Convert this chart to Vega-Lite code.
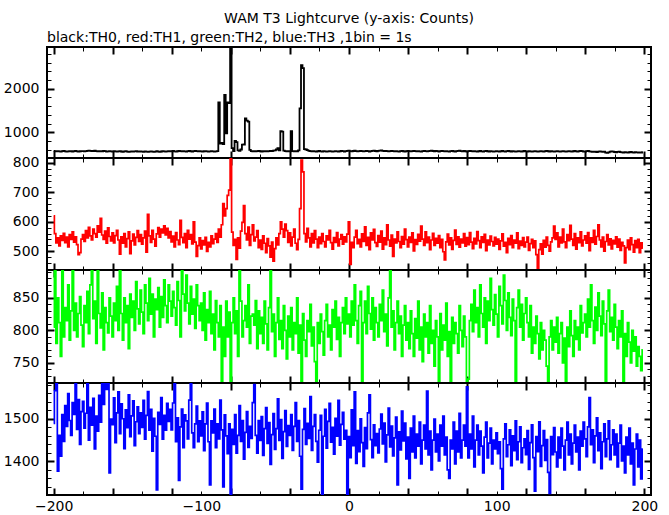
{
"$schema":"https://vega.github.io/schema/vega-lite/v6.json",
"padding":{"top":12,"left":2,"right":5,"bottom":0},
"background":"white",
"title":{"text":"WAM T3 Lightcurve (y-axis: Counts)","anchor":"middle","frame":"group","offset":4},
"datasets":{"lc":[
{"t":-200,"a":578,"b":620,"c":805,"d":1489},{"t":-199,"a":572,"b":560,"c":895,"d":1566},{"t":-198,"a":566,"b":528,"c":780,"d":1615},{"t":-197,"a":575,"b":545,"c":850,"d":1377},{"t":-196,"a":569,"b":518,"c":812,"d":1461},{"t":-195,"a":563,"b":552,"c":760,"d":1412},{"t":-194,"a":571,"b":537,"c":898,"d":1510},{"t":-193,"a":577,"b":561,"c":790,"d":1447},{"t":-192,"a":568,"b":529,"c":835,"d":1531},{"t":-191,"a":560,"b":548,"c":815,"d":1482},
{"t":-190,"a":566,"b":515,"c":870,"d":1559},{"t":-189,"a":574,"b":556,"c":785,"d":1496},{"t":-188,"a":570,"b":540,"c":830,"d":1461},{"t":-187,"a":565,"b":566,"c":900,"d":1538},{"t":-186,"a":572,"b":531,"c":800,"d":1510},{"t":-185,"a":579,"b":549,"c":842,"d":1608},{"t":-184,"a":568,"b":522,"c":790,"d":1475},{"t":-183,"a":562,"b":488,"c":826,"d":1545},{"t":-182,"a":570,"b":495,"c":852,"d":1440},{"t":-181,"a":575,"b":541,"c":808,"d":1517},
{"t":-180,"a":571,"b":556,"c":775,"d":1541},{"t":-179,"a":566,"b":533,"c":838,"d":1478},{"t":-178,"a":574,"b":570,"c":812,"d":1513},{"t":-177,"a":580,"b":545,"c":860,"d":1604},{"t":-176,"a":586,"b":581,"c":795,"d":1450},{"t":-175,"a":578,"b":552,"c":870,"d":1527},{"t":-174,"a":571,"b":538,"c":895,"d":1485},{"t":-173,"a":576,"b":575,"c":818,"d":1548},{"t":-172,"a":583,"b":560,"c":845,"d":1429},{"t":-171,"a":575,"b":548,"c":780,"d":1506},
{"t":-170,"a":568,"b":586,"c":900,"d":1471},{"t":-169,"a":573,"b":565,"c":826,"d":1555},{"t":-168,"a":566,"b":612,"c":804,"d":1492},{"t":-167,"a":570,"b":555,"c":858,"d":1597},{"t":-166,"a":577,"b":540,"c":770,"d":1534},{"t":-165,"a":572,"b":568,"c":835,"d":1604},{"t":-164,"a":565,"b":527,"c":812,"d":1569},{"t":-163,"a":569,"b":579,"c":796,"d":1597},{"t":-162,"a":574,"b":550,"c":850,"d":1373},{"t":-161,"a":568,"b":535,"c":822,"d":1499},
{"t":-160,"a":563,"b":562,"c":790,"d":1486},{"t":-159,"a":570,"b":528,"c":842,"d":1549},{"t":-158,"a":566,"b":553,"c":815,"d":1444},{"t":-157,"a":560,"b":571,"c":868,"d":1514},{"t":-156,"a":568,"b":538,"c":800,"d":1563},{"t":-155,"a":573,"b":490,"c":895,"d":1465},{"t":-154,"a":565,"b":549,"c":826,"d":1535},{"t":-153,"a":559,"b":527,"c":785,"d":1500},{"t":-152,"a":566,"b":560,"c":850,"d":1430},{"t":-151,"a":571,"b":515,"c":812,"d":1521},
{"t":-150,"a":563,"b":543,"c":838,"d":1479},{"t":-149,"a":557,"b":566,"c":772,"d":1556},{"t":-148,"a":564,"b":492,"c":856,"d":1458},{"t":-147,"a":569,"b":535,"c":820,"d":1507},{"t":-146,"a":561,"b":558,"c":845,"d":1542},{"t":-145,"a":566,"b":521,"c":800,"d":1437},{"t":-144,"a":572,"b":547,"c":875,"d":1493},{"t":-143,"a":565,"b":570,"c":833,"d":1528},{"t":-142,"a":560,"b":533,"c":810,"d":1465},{"t":-141,"a":567,"b":556,"c":862,"d":1514},
{"t":-140,"a":562,"b":524,"c":828,"d":1480},{"t":-139,"a":558,"b":545,"c":795,"d":1543},{"t":-138,"a":566,"b":568,"c":870,"d":1452},{"t":-137,"a":561,"b":497,"c":842,"d":1508},{"t":-136,"a":555,"b":625,"c":815,"d":1564},{"t":-135,"a":563,"b":552,"c":880,"d":1473},{"t":-134,"a":568,"b":530,"c":825,"d":1522},{"t":-133,"a":560,"b":571,"c":856,"d":1424},{"t":-132,"a":556,"b":541,"c":790,"d":1501},{"t":-131,"a":564,"b":517,"c":848,"d":1459},
{"t":-130,"a":570,"b":559,"c":832,"d":1333},{"t":-129,"a":562,"b":580,"c":866,"d":1515},{"t":-128,"a":558,"b":548,"c":805,"d":1487},{"t":-127,"a":565,"b":575,"c":852,"d":1550},{"t":-126,"a":571,"b":562,"c":820,"d":1452},{"t":-125,"a":566,"b":586,"c":878,"d":1508},{"t":-124,"a":560,"b":555,"c":838,"d":1473},{"t":-123,"a":567,"b":578,"c":812,"d":1536},{"t":-122,"a":573,"b":545,"c":870,"d":1494},{"t":-121,"a":566,"b":567,"c":845,"d":1522},
{"t":-120,"a":571,"b":532,"c":822,"d":1474},{"t":-119,"a":576,"b":551,"c":860,"d":1537},{"t":-118,"a":568,"b":515,"c":835,"d":1593},{"t":-117,"a":563,"b":563,"c":808,"d":1446},{"t":-116,"a":570,"b":538,"c":875,"d":1502},{"t":-115,"a":577,"b":522,"c":846,"d":1355},{"t":-114,"a":572,"b":605,"c":790,"d":1481},{"t":-113,"a":566,"b":547,"c":895,"d":1523},{"t":-112,"a":574,"b":529,"c":856,"d":1432},{"t":-111,"a":569,"b":560,"c":830,"d":1509},
{"t":-110,"a":563,"b":512,"c":885,"d":1495},{"t":-109,"a":571,"b":571,"c":842,"d":1453},{"t":-108,"a":577,"b":541,"c":810,"d":1544},{"t":-107,"a":570,"b":556,"c":868,"d":1607},{"t":-106,"a":565,"b":525,"c":825,"d":1467},{"t":-105,"a":572,"b":600,"c":848,"d":1432},{"t":-104,"a":578,"b":531,"c":803,"d":1488},{"t":-103,"a":571,"b":482,"c":870,"d":1530},{"t":-102,"a":566,"b":519,"c":838,"d":1446},{"t":-101,"a":573,"b":545,"c":815,"d":1495},
{"t":-100,"a":569,"b":508,"c":842,"d":1460},{"t":-99,"a":563,"b":536,"c":800,"d":1516},{"t":-98,"a":570,"b":521,"c":858,"d":1425},{"t":-97,"a":575,"b":547,"c":785,"d":1488},{"t":-96,"a":568,"b":499,"c":832,"d":1537},{"t":-95,"a":562,"b":530,"c":812,"d":1446},{"t":-94,"a":569,"b":515,"c":860,"d":1345},{"t":-93,"a":574,"b":552,"c":795,"d":1495},{"t":-92,"a":567,"b":526,"c":825,"d":1467},{"t":-91,"a":560,"b":541,"c":770,"d":1523},
{"t":-90,"a":566,"b":560,"c":846,"d":1432},{"t":-89,"a":572,"b":530,"c":812,"d":1488},{"t":-88,"a":1690,"b":575,"c":790,"d":1453},{"t":-87,"a":745,"b":548,"c":838,"d":1544},{"t":-86,"a":760,"b":590,"c":720,"d":1474},{"t":-85,"a":735,"b":662,"c":805,"d":1340},{"t":-84,"a":1860,"b":620,"c":760,"d":1509},{"t":-83,"a":980,"b":645,"c":845,"d":1460},{"t":-82,"a":1690,"b":690,"c":790,"d":1418},{"t":-81,"a":1670,"b":708,"c":828,"d":1488},
{"t":-80,"a":3400,"b":830,"c":718,"d":1322},{"t":-79,"a":640,"b":565,"c":812,"d":1475},{"t":-78,"a":575,"b":520,"c":850,"d":1440},{"t":-77,"a":810,"b":540,"c":795,"d":1510},{"t":-76,"a":780,"b":472,"c":830,"d":1419},{"t":-75,"a":590,"b":545,"c":760,"d":1461},{"t":-74,"a":580,"b":510,"c":895,"d":1531},{"t":-73,"a":610,"b":568,"c":845,"d":1447},{"t":-72,"a":720,"b":598,"c":790,"d":1496},{"t":-71,"a":725,"b":655,"c":815,"d":1405},
{"t":-70,"a":1320,"b":560,"c":838,"d":1468},{"t":-69,"a":1270,"b":538,"c":805,"d":1517},{"t":-68,"a":1250,"b":582,"c":870,"d":1433},{"t":-67,"a":600,"b":520,"c":780,"d":1482},{"t":-66,"a":575,"b":556,"c":822,"d":1454},{"t":-65,"a":568,"b":590,"c":825,"d":1538},{"t":-64,"a":574,"b":535,"c":808,"d":1580},{"t":-63,"a":566,"b":548,"c":846,"d":1461},{"t":-62,"a":571,"b":570,"c":772,"d":1419},{"t":-61,"a":577,"b":512,"c":830,"d":1496},
{"t":-60,"a":570,"b":538,"c":795,"d":1449},{"t":-59,"a":564,"b":506,"c":820,"d":1505},{"t":-58,"a":572,"b":552,"c":780,"d":1414},{"t":-57,"a":568,"b":527,"c":845,"d":1477},{"t":-56,"a":575,"b":495,"c":810,"d":1526},{"t":-55,"a":569,"b":543,"c":770,"d":1442},{"t":-54,"a":574,"b":518,"c":835,"d":1491},{"t":-53,"a":580,"b":480,"c":900,"d":1393},{"t":-52,"a":576,"b":531,"c":798,"d":1463},{"t":-51,"a":584,"b":466,"c":825,"d":1512},
{"t":-50,"a":590,"b":509,"c":760,"d":1428},{"t":-49,"a":610,"b":545,"c":812,"d":1477},{"t":-48,"a":640,"b":521,"c":850,"d":1547},{"t":-47,"a":590,"b":560,"c":786,"d":1449},{"t":-46,"a":1030,"b":600,"c":815,"d":1498},{"t":-45,"a":1020,"b":575,"c":772,"d":1407},{"t":-44,"a":585,"b":548,"c":838,"d":1470},{"t":-43,"a":572,"b":592,"c":800,"d":1519},{"t":-42,"a":566,"b":570,"c":756,"d":1435},{"t":-41,"a":574,"b":530,"c":822,"d":1484},
{"t":-40,"a":570,"b":562,"c":790,"d":1461},{"t":-39,"a":1030,"b":518,"c":835,"d":1510},{"t":-38,"a":575,"b":548,"c":770,"d":1426},{"t":-37,"a":566,"b":575,"c":812,"d":1482},{"t":-36,"a":572,"b":527,"c":795,"d":1538},{"t":-35,"a":568,"b":505,"c":850,"d":1447},{"t":-34,"a":590,"b":540,"c":765,"d":1496},{"t":-33,"a":1550,"b":645,"c":808,"d":1412},{"t":-32,"a":2540,"b":810,"c":718,"d":1335},{"t":-31,"a":2470,"b":770,"c":826,"d":1475},
{"t":-30,"a":620,"b":560,"c":785,"d":1524},{"t":-29,"a":610,"b":532,"c":760,"d":1440},{"t":-28,"a":596,"b":578,"c":815,"d":1489},{"t":-27,"a":580,"b":545,"c":798,"d":1454},{"t":-26,"a":572,"b":515,"c":840,"d":1552},{"t":-25,"a":566,"b":560,"c":776,"d":1426},{"t":-24,"a":574,"b":528,"c":805,"d":1482},{"t":-23,"a":569,"b":570,"c":752,"d":1510},{"t":-22,"a":563,"b":541,"c":720,"d":1447},{"t":-21,"a":570,"b":512,"c":812,"d":1398},
{"t":-20,"a":576,"b":548,"c":780,"d":1473},{"t":-19,"a":569,"b":526,"c":825,"d":1508},{"t":-18,"a":563,"b":560,"c":798,"d":1322},{"t":-17,"a":571,"b":533,"c":762,"d":1459},{"t":-16,"a":566,"b":515,"c":815,"d":1522},{"t":-15,"a":560,"b":552,"c":840,"d":1431},{"t":-14,"a":568,"b":538,"c":790,"d":1494},{"t":-13,"a":574,"b":571,"c":808,"d":1536},{"t":-12,"a":567,"b":529,"c":770,"d":1445},{"t":-11,"a":561,"b":507,"c":832,"d":1480},
{"t":-10,"a":569,"b":546,"c":805,"d":1417},{"t":-9,"a":575,"b":530,"c":845,"d":1501},{"t":-8,"a":568,"b":563,"c":786,"d":1459},{"t":-7,"a":562,"b":518,"c":820,"d":1543},{"t":-6,"a":570,"b":541,"c":760,"d":1438},{"t":-5,"a":577,"b":556,"c":812,"d":1487},{"t":-4,"a":571,"b":524,"c":835,"d":1515},{"t":-3,"a":565,"b":549,"c":795,"d":1452},{"t":-2,"a":572,"b":532,"c":850,"d":1473},{"t":-1,"a":578,"b":558,"c":810,"d":1320},
{"t":0,"a":583,"b":600,"c":825,"d":1458},{"t":1,"a":575,"b":455,"c":790,"d":1409},{"t":2,"a":569,"b":530,"c":845,"d":1521},{"t":3,"a":576,"b":512,"c":808,"d":1437},{"t":4,"a":582,"b":548,"c":870,"d":1563},{"t":5,"a":574,"b":571,"c":815,"d":1395},{"t":6,"a":568,"b":526,"c":780,"d":1472},{"t":7,"a":575,"b":540,"c":838,"d":1423},{"t":8,"a":581,"b":515,"c":860,"d":1500},{"t":9,"a":574,"b":559,"c":718,"d":1444},
{"t":10,"a":567,"b":533,"c":812,"d":1388},{"t":11,"a":573,"b":583,"c":845,"d":1479},{"t":12,"a":579,"b":520,"c":795,"d":1430},{"t":13,"a":571,"b":547,"c":868,"d":1514},{"t":14,"a":565,"b":505,"c":826,"d":1556},{"t":15,"a":572,"b":562,"c":802,"d":1451},{"t":16,"a":578,"b":538,"c":850,"d":1409},{"t":17,"a":584,"b":574,"c":785,"d":1486},{"t":18,"a":576,"b":529,"c":835,"d":1437},{"t":19,"a":570,"b":516,"c":812,"d":1465},
{"t":20,"a":577,"b":553,"c":790,"d":1420},{"t":21,"a":583,"b":531,"c":840,"d":1476},{"t":22,"a":590,"b":568,"c":815,"d":1511},{"t":23,"a":580,"b":507,"c":862,"d":1441},{"t":24,"a":573,"b":545,"c":798,"d":1490},{"t":25,"a":579,"b":522,"c":825,"d":1399},{"t":26,"a":571,"b":590,"c":776,"d":1462},{"t":27,"a":566,"b":538,"c":850,"d":1525},{"t":28,"a":574,"b":517,"c":900,"d":1434},{"t":29,"a":580,"b":555,"c":805,"d":1483},
{"t":30,"a":572,"b":482,"c":830,"d":1413},{"t":31,"a":567,"b":541,"c":770,"d":1455},{"t":32,"a":575,"b":528,"c":812,"d":1504},{"t":33,"a":569,"b":566,"c":845,"d":1345},{"t":34,"a":563,"b":533,"c":795,"d":1469},{"t":35,"a":571,"b":512,"c":822,"d":1427},{"t":36,"a":577,"b":550,"c":760,"d":1518},{"t":37,"a":570,"b":524,"c":808,"d":1448},{"t":38,"a":565,"b":575,"c":838,"d":1490},{"t":39,"a":573,"b":539,"c":785,"d":1406},
{"t":40,"a":578,"b":515,"c":812,"d":1457},{"t":41,"a":571,"b":548,"c":772,"d":1360},{"t":42,"a":566,"b":530,"c":830,"d":1478},{"t":43,"a":574,"b":562,"c":795,"d":1422},{"t":44,"a":580,"b":501,"c":760,"d":1506},{"t":45,"a":573,"b":539,"c":818,"d":1408},{"t":46,"a":567,"b":523,"c":788,"d":1464},{"t":47,"a":575,"b":557,"c":845,"d":1436},{"t":48,"a":569,"b":534,"c":770,"d":1492},{"t":49,"a":564,"b":585,"c":805,"d":1394},
{"t":50,"a":572,"b":541,"c":752,"d":1450},{"t":51,"a":578,"b":520,"c":825,"d":1485},{"t":52,"a":571,"b":566,"c":790,"d":1429},{"t":53,"a":566,"b":529,"c":812,"d":1565},{"t":54,"a":574,"b":548,"c":765,"d":1415},{"t":55,"a":580,"b":505,"c":838,"d":1471},{"t":56,"a":586,"b":538,"c":780,"d":1380},{"t":57,"a":576,"b":561,"c":800,"d":1450},{"t":58,"a":570,"b":520,"c":745,"d":1499},{"t":59,"a":577,"b":544,"c":815,"d":1422},
{"t":60,"a":571,"b":527,"c":790,"d":1464},{"t":61,"a":565,"b":553,"c":718,"d":1401},{"t":62,"a":573,"b":512,"c":826,"d":1485},{"t":63,"a":579,"b":540,"c":770,"d":1436},{"t":64,"a":572,"b":498,"c":808,"d":1506},{"t":65,"a":566,"b":470,"c":785,"d":1415},{"t":66,"a":574,"b":532,"c":842,"d":1457},{"t":67,"a":569,"b":558,"c":760,"d":1380},{"t":68,"a":563,"b":521,"c":798,"d":1360},{"t":69,"a":571,"b":545,"c":718,"d":1450},
{"t":70,"a":577,"b":506,"c":820,"d":1429},{"t":71,"a":570,"b":537,"c":780,"d":1492},{"t":72,"a":564,"b":572,"c":812,"d":1394},{"t":73,"a":572,"b":523,"c":795,"d":1471},{"t":74,"a":578,"b":549,"c":765,"d":1422},{"t":75,"a":584,"b":514,"c":838,"d":1513},{"t":76,"a":575,"b":541,"c":800,"d":1408},{"t":77,"a":569,"b":528,"c":775,"d":1450},{"t":78,"a":576,"b":560,"c":822,"d":1485},{"t":79,"a":570,"b":517,"c":790,"d":1436},
{"t":80,"a":565,"b":546,"c":718,"d":1575},{"t":81,"a":572,"b":522,"c":725,"d":1408},{"t":82,"a":578,"b":563,"c":815,"d":1464},{"t":83,"a":571,"b":531,"c":840,"d":1429},{"t":84,"a":566,"b":509,"c":798,"d":1506},{"t":85,"a":574,"b":544,"c":862,"d":1387},{"t":86,"a":569,"b":525,"c":812,"d":1450},{"t":87,"a":563,"b":567,"c":835,"d":1485},{"t":88,"a":570,"b":536,"c":790,"d":1415},{"t":89,"a":576,"b":512,"c":870,"d":1471},
{"t":90,"a":569,"b":549,"c":826,"d":1436},{"t":91,"a":563,"b":530,"c":805,"d":1373},{"t":92,"a":571,"b":557,"c":850,"d":1457},{"t":93,"a":577,"b":502,"c":780,"d":1492},{"t":94,"a":570,"b":538,"c":845,"d":1408},{"t":95,"a":565,"b":521,"c":815,"d":1443},{"t":96,"a":572,"b":551,"c":880,"d":1478},{"t":97,"a":567,"b":533,"c":832,"d":1394},{"t":98,"a":561,"b":518,"c":808,"d":1450},{"t":99,"a":569,"b":547,"c":855,"d":1429},
{"t":100,"a":575,"b":524,"c":825,"d":1467},{"t":101,"a":568,"b":541,"c":790,"d":1418},{"t":102,"a":562,"b":506,"c":868,"d":1446},{"t":103,"a":570,"b":535,"c":838,"d":1383},{"t":104,"a":576,"b":559,"c":810,"d":1335},{"t":105,"a":569,"b":517,"c":885,"d":1453},{"t":106,"a":564,"b":530,"c":846,"d":1488},{"t":107,"a":571,"b":495,"c":800,"d":1411},{"t":108,"a":577,"b":544,"c":858,"d":1439},{"t":109,"a":570,"b":522,"c":820,"d":1474},
{"t":110,"a":565,"b":553,"c":792,"d":1390},{"t":111,"a":573,"b":512,"c":848,"d":1460},{"t":112,"a":567,"b":538,"c":815,"d":1425},{"t":113,"a":561,"b":527,"c":718,"d":1495},{"t":114,"a":569,"b":562,"c":835,"d":1404},{"t":115,"a":575,"b":509,"c":862,"d":1446},{"t":116,"a":568,"b":534,"c":805,"d":1481},{"t":117,"a":562,"b":520,"c":840,"d":1397},{"t":118,"a":570,"b":546,"c":785,"d":1432},{"t":119,"a":576,"b":515,"c":826,"d":1453},
{"t":120,"a":569,"b":531,"c":850,"d":1416},{"t":121,"a":563,"b":548,"c":812,"d":1472},{"t":122,"a":571,"b":503,"c":790,"d":1381},{"t":123,"a":566,"b":526,"c":838,"d":1444},{"t":124,"a":560,"b":540,"c":765,"d":1486},{"t":125,"a":568,"b":512,"c":805,"d":1409},{"t":126,"a":574,"b":535,"c":780,"d":1330},{"t":127,"a":567,"b":488,"c":822,"d":1458},{"t":128,"a":561,"b":441,"c":795,"d":1423},{"t":129,"a":569,"b":505,"c":756,"d":1493},
{"t":130,"a":575,"b":525,"c":812,"d":1388},{"t":131,"a":568,"b":490,"c":770,"d":1437},{"t":132,"a":563,"b":537,"c":800,"d":1472},{"t":133,"a":571,"b":514,"c":785,"d":1402},{"t":134,"a":577,"b":548,"c":745,"d":1451},{"t":135,"a":570,"b":520,"c":718,"d":1374},{"t":136,"a":564,"b":500,"c":790,"d":1325},{"t":137,"a":572,"b":532,"c":815,"d":1458},{"t":138,"a":566,"b":545,"c":770,"d":1416},{"t":139,"a":560,"b":585,"c":805,"d":1479},
{"t":140,"a":568,"b":540,"c":782,"d":1422},{"t":141,"a":573,"b":562,"c":820,"d":1387},{"t":142,"a":566,"b":515,"c":765,"d":1457},{"t":143,"a":560,"b":548,"c":795,"d":1408},{"t":144,"a":567,"b":528,"c":812,"d":1478},{"t":145,"a":573,"b":575,"c":750,"d":1436},{"t":146,"a":566,"b":532,"c":788,"d":1380},{"t":147,"a":561,"b":512,"c":718,"d":1450},{"t":148,"a":569,"b":556,"c":805,"d":1492},{"t":149,"a":575,"b":536,"c":775,"d":1415},
{"t":150,"a":568,"b":588,"c":830,"d":1464},{"t":151,"a":562,"b":541,"c":792,"d":1394},{"t":152,"a":570,"b":520,"c":760,"d":1443},{"t":153,"a":576,"b":560,"c":815,"d":1485},{"t":154,"a":569,"b":507,"c":786,"d":1422},{"t":155,"a":564,"b":545,"c":805,"d":1457},{"t":156,"a":572,"b":529,"c":770,"d":1380},{"t":157,"a":578,"b":566,"c":838,"d":1471},{"t":158,"a":571,"b":518,"c":796,"d":1436},{"t":159,"a":565,"b":538,"c":812,"d":1492},
{"t":160,"a":565,"b":552,"c":825,"d":1453},{"t":161,"a":572,"b":527,"c":790,"d":1411},{"t":162,"a":578,"b":563,"c":848,"d":1481},{"t":163,"a":569,"b":502,"c":805,"d":1550},{"t":164,"a":562,"b":545,"c":870,"d":1439},{"t":165,"a":556,"b":530,"c":815,"d":1474},{"t":166,"a":564,"b":571,"c":780,"d":1397},{"t":167,"a":559,"b":524,"c":836,"d":1460},{"t":168,"a":553,"b":550,"c":800,"d":1502},{"t":169,"a":560,"b":590,"c":858,"d":1425},
{"t":170,"a":566,"b":538,"c":822,"d":1467},{"t":171,"a":560,"b":515,"c":792,"d":1383},{"t":172,"a":555,"b":548,"c":845,"d":1446},{"t":173,"a":563,"b":500,"c":810,"d":1488},{"t":174,"a":540,"b":533,"c":718,"d":1411},{"t":175,"a":535,"b":556,"c":830,"d":1453},{"t":176,"a":543,"b":521,"c":862,"d":1495},{"t":177,"a":560,"b":542,"c":798,"d":1404},{"t":178,"a":567,"b":508,"c":820,"d":1439},{"t":179,"a":560,"b":537,"c":785,"d":1474},
{"t":180,"a":553,"b":525,"c":840,"d":1415},{"t":181,"a":548,"b":549,"c":805,"d":1464},{"t":182,"a":556,"b":514,"c":772,"d":1387},{"t":183,"a":561,"b":541,"c":815,"d":1443},{"t":184,"a":552,"b":503,"c":790,"d":1485},{"t":185,"a":546,"b":530,"c":830,"d":1401},{"t":186,"a":541,"b":518,"c":718,"d":1436},{"t":187,"a":549,"b":460,"c":795,"d":1373},{"t":188,"a":544,"b":512,"c":760,"d":1457},{"t":189,"a":539,"b":538,"c":812,"d":1415},
{"t":190,"a":547,"b":505,"c":782,"d":1478},{"t":191,"a":553,"b":545,"c":750,"d":1394},{"t":192,"a":546,"b":522,"c":800,"d":1443},{"t":193,"a":541,"b":497,"c":768,"d":1345},{"t":194,"a":549,"b":536,"c":790,"d":1429},{"t":195,"a":544,"b":512,"c":745,"d":1464},{"t":196,"a":538,"b":540,"c":775,"d":1387},{"t":197,"a":546,"b":495,"c":760,"d":1450},{"t":198,"a":541,"b":528,"c":738,"d":1359},{"t":199,"a":548,"b":510,"c":770,"d":1429}
]},
"data":{"name":"lc"},
"spacing":0,
"bounds":"flush",
"vconcat":[
{"width":604,"height":111,
 "title":{"text":"black:TH0, red:TH1, green:TH2, blue:TH3 ,1bin = 1s","anchor":"start","frame":"group","offset":1},
 "layer":[
  {"mark":{"type":"line","interpolate":"step","color":"black","strokeWidth":1.8,"clip":true},
   "encoding":{
    "x":{"field":"t","type":"quantitative","scale":{"domain":[-204.5,204.5],"nice":false,"zero":false},
     "axis":{"orient":"bottom","title":null,"values":[-200,-180,-160,-140,-120,-100,-80,-60,-40,-20,0,20,40,60,80,100,120,140,160,180,200],"labels":false,"tickSize":{"condition":{"test":"datum.value % 40 === 0","value":-7},"value":-4},"tickWidth":{"condition":{"test":"datum.value % 40 === 0","value":2},"value":1},"minExtent":0,"maxExtent":0}},
    "y":{"field":"a","type":"quantitative","scale":{"domain":[416,2955],"nice":false,"zero":false},
     "axis":{"orient":"left","title":null,"values":[600,800,1000,1200,1400,1600,1800,2000,2200,2400,2600,2800],"labelExpr":"datum.value % 1000 === 0 ? datum.label : ''","tickSize":{"condition":{"test":"datum.value % 1000 === 0","value":-7},"value":-4},"tickWidth":{"condition":{"test":"datum.value % 1000 === 0","value":2},"value":1},"labelPadding":15,"minExtent":44,"maxExtent":44}}}},
  {"mark":{"type":"line","interpolate":"step","opacity":0,"clip":true},
   "encoding":{
    "x":{"field":"t","type":"quantitative","scale":{"domain":[-204.5,204.5],"nice":false,"zero":false},
     "axis":{"orient":"top","title":null,"values":[-200,-180,-160,-140,-120,-100,-80,-60,-40,-20,0,20,40,60,80,100,120,140,160,180,200],"labels":false,"tickSize":{"condition":{"test":"datum.value % 40 === 0","value":-7},"value":-4},"tickWidth":{"condition":{"test":"datum.value % 40 === 0","value":2},"value":1},"minExtent":0,"maxExtent":0}},
    "y":{"field":"a","type":"quantitative","scale":{"domain":[416,2955],"nice":false,"zero":false},
     "axis":{"orient":"right","title":null,"values":[600,800,1000,1200,1400,1600,1800,2000,2200,2400,2600,2800],"labels":false,"tickSize":{"condition":{"test":"datum.value % 1000 === 0","value":-7},"value":-4},"tickWidth":{"condition":{"test":"datum.value % 1000 === 0","value":2},"value":1},"minExtent":0,"maxExtent":0}}}}
 ],
 "resolve":{"axis":{"x":"independent","y":"independent"}}},
{"width":604,"height":112,
 "layer":[
  {"mark":{"type":"line","interpolate":"step","color":"#ff0000","strokeWidth":1.7,"clip":true},
   "encoding":{
    "x":{"field":"t","type":"quantitative","scale":{"domain":[-204.5,204.5],"nice":false,"zero":false},
     "axis":{"orient":"bottom","title":null,"values":[-200,-180,-160,-140,-120,-100,-80,-60,-40,-20,0,20,40,60,80,100,120,140,160,180,200],"labels":false,"tickSize":{"condition":{"test":"datum.value % 40 === 0","value":-7},"value":-4},"tickWidth":{"condition":{"test":"datum.value % 40 === 0","value":2},"value":1},"minExtent":0,"maxExtent":0}},
    "y":{"field":"b","type":"quantitative","scale":{"domain":[436,817],"nice":false,"zero":false},
     "axis":{"orient":"left","title":null,"values":[440,460,480,500,520,540,560,580,600,620,640,660,680,700,720,740,760,780,800],"labelExpr":"datum.value % 100 === 0 ? datum.label : ''","tickSize":{"condition":{"test":"datum.value % 100 === 0","value":-7},"value":-4},"tickWidth":{"condition":{"test":"datum.value % 100 === 0","value":2},"value":1},"labelPadding":15,"minExtent":44,"maxExtent":44}}}},
  {"mark":{"type":"line","interpolate":"step","opacity":0,"clip":true},
   "encoding":{
    "x":{"field":"t","type":"quantitative","scale":{"domain":[-204.5,204.5],"nice":false,"zero":false},
     "axis":{"orient":"top","title":null,"values":[-200,-180,-160,-140,-120,-100,-80,-60,-40,-20,0,20,40,60,80,100,120,140,160,180,200],"labels":false,"tickSize":{"condition":{"test":"datum.value % 40 === 0","value":-7},"value":-4},"tickWidth":{"condition":{"test":"datum.value % 40 === 0","value":2},"value":1},"minExtent":0,"maxExtent":0}},
    "y":{"field":"b","type":"quantitative","scale":{"domain":[436,817],"nice":false,"zero":false},
     "axis":{"orient":"right","title":null,"values":[440,460,480,500,520,540,560,580,600,620,640,660,680,700,720,740,760,780,800],"labels":false,"tickSize":{"condition":{"test":"datum.value % 100 === 0","value":-7},"value":-4},"tickWidth":{"condition":{"test":"datum.value % 100 === 0","value":2},"value":1},"minExtent":0,"maxExtent":0}}}}
 ],
 "resolve":{"axis":{"x":"independent","y":"independent"}}},
{"width":604,"height":113,
 "layer":[
  {"mark":{"type":"line","interpolate":"step","color":"#00ff00","strokeWidth":1.7,"clip":true},
   "encoding":{
    "x":{"field":"t","type":"quantitative","scale":{"domain":[-204.5,204.5],"nice":false,"zero":false},
     "axis":{"orient":"bottom","title":null,"values":[-200,-180,-160,-140,-120,-100,-80,-60,-40,-20,0,20,40,60,80,100,120,140,160,180,200],"labels":false,"tickSize":{"condition":{"test":"datum.value % 40 === 0","value":-7},"value":-4},"tickWidth":{"condition":{"test":"datum.value % 40 === 0","value":2},"value":1},"minExtent":0,"maxExtent":0}},
    "y":{"field":"c","type":"quantitative","scale":{"domain":[719,893],"nice":false,"zero":false},
     "axis":{"orient":"left","title":null,"values":[720,730,740,750,760,770,780,790,800,810,820,830,840,850,860,870,880,890],"labelExpr":"datum.value % 50 === 0 ? datum.label : ''","tickSize":{"condition":{"test":"datum.value % 50 === 0","value":-7},"value":-4},"tickWidth":{"condition":{"test":"datum.value % 50 === 0","value":2},"value":1},"labelPadding":15,"minExtent":44,"maxExtent":44}}}},
  {"mark":{"type":"line","interpolate":"step","opacity":0,"clip":true},
   "encoding":{
    "x":{"field":"t","type":"quantitative","scale":{"domain":[-204.5,204.5],"nice":false,"zero":false},
     "axis":{"orient":"top","title":null,"values":[-200,-180,-160,-140,-120,-100,-80,-60,-40,-20,0,20,40,60,80,100,120,140,160,180,200],"labels":false,"tickSize":{"condition":{"test":"datum.value % 40 === 0","value":-7},"value":-4},"tickWidth":{"condition":{"test":"datum.value % 40 === 0","value":2},"value":1},"minExtent":0,"maxExtent":0}},
    "y":{"field":"c","type":"quantitative","scale":{"domain":[719,893],"nice":false,"zero":false},
     "axis":{"orient":"right","title":null,"values":[720,730,740,750,760,770,780,790,800,810,820,830,840,850,860,870,880,890],"labels":false,"tickSize":{"condition":{"test":"datum.value % 50 === 0","value":-7},"value":-4},"tickWidth":{"condition":{"test":"datum.value % 50 === 0","value":2},"value":1},"minExtent":0,"maxExtent":0}}}}
 ],
 "resolve":{"axis":{"x":"independent","y":"independent"}}},
{"width":604,"height":112,
 "layer":[
  {"mark":{"type":"line","interpolate":"step","color":"#0000ff","strokeWidth":1.7,"clip":true},
   "encoding":{
    "x":{"field":"t","type":"quantitative","scale":{"domain":[-204.5,204.5],"nice":false,"zero":false},
     "axis":{"orient":"bottom","title":null,"values":[-200,-180,-160,-140,-120,-100,-80,-60,-40,-20,0,20,40,60,80,100,120,140,160,180,200],"labelExpr":"datum.value % 100 === 0 ? datum.label : ''","labelPadding":{"condition":{"test":"datum.value % 40 === 0","value":11},"value":8},"tickSize":{"condition":{"test":"datum.value % 40 === 0","value":-7},"value":-4},"tickWidth":{"condition":{"test":"datum.value % 40 === 0","value":2},"value":1}}},
    "y":{"field":"d","type":"quantitative","scale":{"domain":[1321,1584],"nice":false,"zero":false},
     "axis":{"orient":"left","title":null,"values":[1340,1360,1380,1400,1420,1440,1460,1480,1500,1520,1540,1560,1580],"labelExpr":"datum.value % 100 === 0 ? datum.label : ''","tickSize":{"condition":{"test":"datum.value % 100 === 0","value":-7},"value":-4},"tickWidth":{"condition":{"test":"datum.value % 100 === 0","value":2},"value":1},"labelPadding":15,"minExtent":44,"maxExtent":44}}}},
  {"mark":{"type":"line","interpolate":"step","opacity":0,"clip":true},
   "encoding":{
    "x":{"field":"t","type":"quantitative","scale":{"domain":[-204.5,204.5],"nice":false,"zero":false},
     "axis":{"orient":"top","title":null,"values":[-200,-180,-160,-140,-120,-100,-80,-60,-40,-20,0,20,40,60,80,100,120,140,160,180,200],"labels":false,"tickSize":{"condition":{"test":"datum.value % 40 === 0","value":-7},"value":-4},"tickWidth":{"condition":{"test":"datum.value % 40 === 0","value":2},"value":1},"minExtent":0,"maxExtent":0}},
    "y":{"field":"d","type":"quantitative","scale":{"domain":[1321,1584],"nice":false,"zero":false},
     "axis":{"orient":"right","title":null,"values":[1340,1360,1380,1400,1420,1440,1460,1480,1500,1520,1540,1560,1580],"labels":false,"tickSize":{"condition":{"test":"datum.value % 100 === 0","value":-7},"value":-4},"tickWidth":{"condition":{"test":"datum.value % 100 === 0","value":2},"value":1},"minExtent":0,"maxExtent":0}}}}
 ],
 "resolve":{"axis":{"x":"independent","y":"independent"}}}
],
"config":{
 "font":"DejaVu Sans",
 "view":{"stroke":"black","strokeWidth":2},
 "title":{"font":"DejaVu Sans","fontSize":14,"fontWeight":"normal","color":"black"},
 "axis":{"domain":false,"grid":false,"tickColor":"black","labelColor":"black","labelFont":"DejaVu Sans","labelFontSize":14,"labelOverlap":false,"labelFlush":false,"format":"d"}
}
}
